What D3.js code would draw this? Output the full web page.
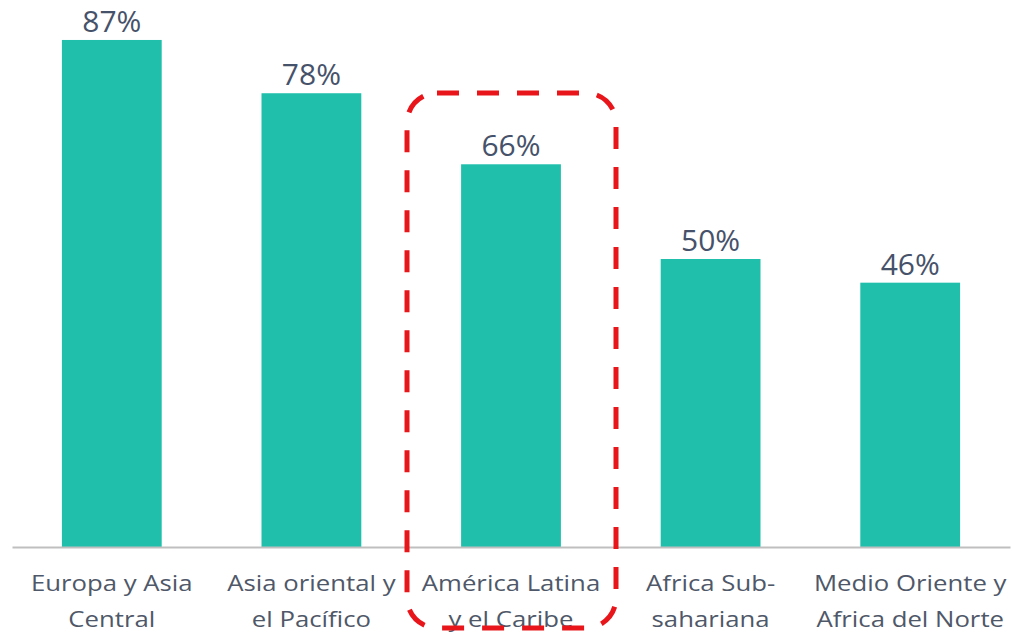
<!DOCTYPE html>
<html>
<head>
<meta charset="utf-8">
<script src="https://cdn.jsdelivr.net/npm/d3@7"></script>
<style>
  html, body { margin: 0; padding: 0; background: #fff; }
  svg { display: block; }
</style>
</head>
<body>
<svg id="chart" width="1012" height="632"></svg>
<script>
// Regions (two-line labels) and their shares
const categories = [
  ["Europa y Asia", "Central"],
  ["Asia oriental y", "el Pacífico"],
  ["América Latina", "y el Caribe"],
  ["Africa Sub-", "sahariana"],
  ["Medio Oriente y", "Africa del Norte"]
];
const values = [87, 78, 66, 50, 46];
const valueLabels = ["87%", "78%", "66%", "50%", "46%"];
const highlighted = ["América Latina"];

const svg = d3.select("#chart");

const baseY = 547;
const x = d3.scaleBand()
  .domain(d3.range(categories.length))
  .range([12, 1010])
  .paddingInner(0.5)
  .paddingOuter(0.25);

const y = d3.scaleLinear().domain([0, 100]).range([555, -37]);

const barColor = "#1fbfac";
const valueColor = "#46526a";
const catColor = "#4f5868";
const font = "'Open Sans', 'DejaVu Sans', sans-serif";

// bars
svg.append("g").selectAll("rect")
  .data(values)
  .join("rect")
  .attr("x", (d, i) => x(i))
  .attr("width", x.bandwidth())
  .attr("y", d => y(d))
  .attr("height", d => baseY - y(d))
  .attr("fill", barColor);

// axis line
const axis = d3.axisBottom(x).tickSize(0).tickFormat("");
const gAxis = svg.append("g").attr("transform", `translate(0,${baseY})`).call(axis);
gAxis.select(".domain").attr("stroke", "#bfbfbf").attr("stroke-width", 2);

// value labels
svg.append("g").selectAll("text")
  .data(values)
  .join("text")
  .attr("x", (d, i) => x(i) + x.bandwidth() / 2)
  .attr("y", d => y(d) - 8)
  .attr("text-anchor", "middle")
  .attr("font-family", font)
  .attr("font-size", 30)
  .attr("fill", valueColor)
  .text((d, i) => valueLabels[i]);

// category labels
const cat = svg.append("g").selectAll("text")
  .data(categories)
  .join("text")
  .attr("text-anchor", "middle")
  .attr("font-family", font)
  .attr("font-size", 22)
  .attr("fill", catColor)
  .attr("transform", (d, i) => `translate(${x(i) + x.bandwidth() / 2},0) scale(1.17,1)`);
cat.selectAll("tspan")
  .data(d => d)
  .join("tspan")
  .attr("x", 0)
  .attr("y", (d, j) => 591 + j * 36)
  .text(d => d);

// dashed rounded frame around the highlighted region
const hi = categories.findIndex(c => highlighted.includes(c[0]));
const cx = x(hi) + x.bandwidth() / 2;
svg.append("rect")
  .attr("x", cx - 104)
  .attr("y", 93)
  .attr("width", 209)
  .attr("height", 535)
  .attr("rx", 30)
  .attr("fill", "none")
  .attr("stroke", "#e8161b")
  .attr("stroke-width", 5)
  .attr("stroke-dasharray", "22 18");
</script>
</body>
</html>
